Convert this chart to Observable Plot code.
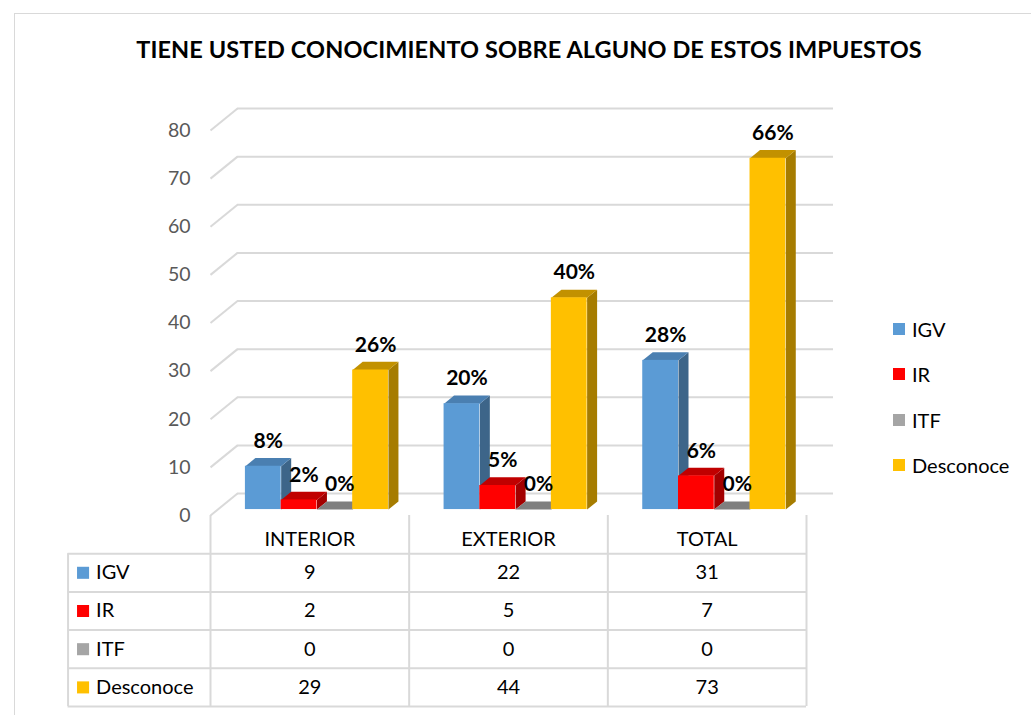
<!DOCTYPE html>
<html><head><meta charset="utf-8">
<script src="https://cdn.jsdelivr.net/npm/d3@7"></script>
<script src="https://cdn.jsdelivr.net/npm/@observablehq/plot@0.6"></script>
<style>
body{margin:0;background:#fff;font-family:Lato,"Open Sans",sans-serif;}
#wrap{position:relative;width:1031px;height:715px;overflow:hidden;background:#fff;}
#frame{position:absolute;left:14px;top:13px;width:1100px;height:800px;border:1px solid #d9d9d9;}
#title{position:absolute;left:0;width:1058px;top:35px;text-align:center;font-weight:bold;font-size:23.5px;letter-spacing:0.1px;color:#000;white-space:nowrap;}
#chart,#table{position:absolute;left:0;top:0;}
#legend{position:absolute;left:893px;top:316px;}
.li{height:45.3px;display:flex;align-items:flex-start;font-size:20px;color:#000;line-height:26px;}
.sw{width:12px;height:12px;margin-top:7px;margin-right:7px;}
</style></head><body>
<div id="wrap"><div id="frame"></div>
<div id="title">TIENE USTED CONOCIMIENTO SOBRE ALGUNO DE ESTOS IMPUESTOS</div>
<div id="chart"></div><div id="table"></div><div id="legend"></div></div>
<script>
// ---- data ----
const categories = ["INTERIOR", "EXTERIOR", "TOTAL"];
const series = ["IGV", "IR", "ITF", "Desconoce"];
const igv = [9, 22, 31];
const ir = [2, 5, 7];
const itf = [0, 0, 0];
const desconoce = [29, 44, 73];
const igvPct = ["8%", "20%", "28%"];
const irPct = ["2%", "5%", "6%"];
const itfPct = ["0%", "0%", "0%"];
const desconocePct = ["26%", "40%", "66%"];
const yTicks = [0, 10, 20, 30, 40, 50, 60, 70, 80];

// ---- styles ----
const frontColor = {IGV: "#5b9bd5", IR: "#ff0000", ITF: "#a5a5a5", Desconoce: "#ffc000"};
const topColor = {IGV: "#4a7fb1", IR: "#c00000", ITF: "#7f7f7f", Desconoce: "#c29100"};
const sideColor = {IGV: "#3d6589", IR: "#a30000", ITF: "#6e6e6e", Desconoce: "#a67c00"};
const gridColor = "#d9d9d9";

const values = {IGV: igv, IR: ir, ITF: itf, Desconoce: desconoce};
const pcts = {IGV: igvPct, IR: irPct, ITF: itfPct, Desconoce: desconocePct};

// 3D box geometry (in data units)
const DX = 0.136, DY = 4.57;      // depth of the wall
const F0 = 0.27, F1 = 0.64;       // bar front/back depth fraction
const G0 = 0.139, BW = 0.18;      // group offset / bar width within category

const W = 1031, H = 715;
const xRange = [210, 806];
const FONT = "Lato, 'Open Sans', sans-serif";

const bars = [];
categories.forEach((c, i) => series.forEach((s, j) => {
  bars.push({c, s, i, j, v: values[s][i], label: pcts[s][i], x0: i + G0 + j * BW, x1: i + G0 + (j + 1) * BW});
}));

const tops = [], sides = [];
bars.forEach((b, k) => {
  const id = k;
  [[b.x0 + F0 * DX, b.v + F0 * DY], [b.x1 + F0 * DX, b.v + F0 * DY], [b.x1 + F1 * DX, b.v + F1 * DY], [b.x0 + F1 * DX, b.v + F1 * DY]]
    .forEach(([x, y]) => tops.push({id, x, y, fill: topColor[b.s]}));
  [[b.x1 + F0 * DX, F0 * DY], [b.x1 + F1 * DX, F1 * DY], [b.x1 + F1 * DX, b.v + F1 * DY], [b.x1 + F0 * DX, b.v + F0 * DY]]
    .forEach(([x, y]) => sides.push({id, x, y, fill: sideColor[b.s]}));
});

const chart = Plot.plot({
  width: W, height: H,
  marginLeft: 0, marginRight: 0, marginTop: 0, marginBottom: 0,
  x: {domain: [0, 3], range: xRange, axis: null},
  y: {domain: [0, 80], range: [515, 130], axis: null},
  color: {type: "identity"},
  style: {fontFamily: FONT, background: "transparent", overflow: "visible"},
  marks: [
    Plot.ruleY(yTicks, {y: d => d + DY, x1: DX, x2: 3 + DX, stroke: gridColor, strokeWidth: 2}),
    Plot.link(yTicks, {x1: 0, y1: d => d, x2: DX, y2: d => d + DY, stroke: gridColor, strokeWidth: 2}),
    Plot.text(yTicks, {x: 0, y: d => d, text: d => String(d), textAnchor: "end", dx: -20, fontSize: 19.5, fill: "#595959"}),
    Plot.line(sides, {x: "x", y: "y", z: "id", fill: "fill", stroke: null, curve: "linear-closed"}),
    Plot.line(tops, {x: "x", y: "y", z: "id", fill: "fill", stroke: null, curve: "linear-closed"}),
    Plot.rect(bars, {x1: d => d.x0 + F0 * DX, x2: d => d.x1 + F0 * DX, y1: F0 * DY, y2: d => d.v + F0 * DY, fill: d => frontColor[d.s]}),
    Plot.text(bars, {x: d => (d.x0 + d.x1) / 2 + (F0 + F1) / 2 * DX, y: d => d.v + (F0 + F1) / 2 * DY, dy: -21, text: "label", fontWeight: "bold", fontSize: 21, fill: "#000"})
  ]
});
document.getElementById("chart").append(chart);

// ---- data table ----
const LX = -0.717; // left edge of label column (category units)
const rowIdx = [1, 2, 3, 4, 5];
const cells = [];
series.forEach((s, r) => categories.forEach((c, i) => cells.push({r: r + 1, i, v: values[s][i]})));

const table = Plot.plot({
  width: W, height: H,
  marginLeft: 0, marginRight: 0, marginTop: 0, marginBottom: 0,
  x: {domain: [0, 3], range: xRange, axis: null},
  y: {domain: [0, 5], range: [515, 706], axis: null},
  style: {fontFamily: FONT, background: "transparent", overflow: "visible"},
  marks: [
    Plot.ruleX([0, 1, 2, 3], {y1: 0, y2: 5, stroke: gridColor, strokeWidth: 2}),
    Plot.ruleX([LX], {y1: 1, y2: 5, stroke: gridColor, strokeWidth: 2}),
    Plot.ruleY(rowIdx, {x1: LX, x2: 3, stroke: gridColor, strokeWidth: 2}),
    Plot.text(categories, {x: (d, i) => i + 0.5, y: 0.5, dy: 5, text: d => d, fontSize: 20, fill: "#000"}),
    Plot.text(cells, {x: d => d.i + 0.5, y: d => d.r + 0.5, text: d => String(d.v), fontSize: 20, fill: "#000"}),
    Plot.dot(series, {x: LX, y: (d, i) => i + 1.5, dx: 15, symbol: "square", r: 6.8, fill: d => frontColor[d], stroke: null}),
    Plot.text(series, {x: LX, y: (d, i) => i + 1.5, dx: 28, text: d => d, textAnchor: "start", fontSize: 20, fill: "#000"})
  ]
});
document.getElementById("table").append(table);

// ---- legend ----
const leg = document.getElementById("legend");
series.forEach(s => {
  const it = document.createElement("div"); it.className = "li";
  const sw = document.createElement("div"); sw.className = "sw"; sw.style.background = frontColor[s];
  const tx = document.createElement("span"); tx.textContent = s;
  it.append(sw, tx); leg.append(it);
});
</script>
</body></html>
